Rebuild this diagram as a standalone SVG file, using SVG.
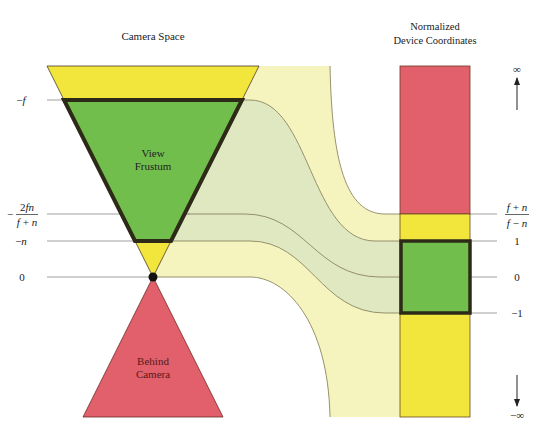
<svg xmlns="http://www.w3.org/2000/svg" width="540" height="435" viewBox="0 0 540 435">
<defs>
<style>
.t{font-family:"Liberation Serif","Times New Roman",serif;font-size:11px;fill:#222;text-anchor:middle}
.m{font-family:"Liberation Serif","Times New Roman",serif;font-size:11px;fill:#222;text-anchor:middle}
.i{font-style:italic}
.g{stroke:#a0a0a0;stroke-width:1;fill:none}
.c{stroke:#8a8660;stroke-width:0.9;fill:none}
.thin{stroke:#4a3a22;stroke-width:0.8}
.thick{stroke:#2e2a18;stroke-width:4;stroke-linejoin:miter}
</style>
<marker id="ah" viewBox="0 0 8 8" refX="7" refY="4" markerWidth="8" markerHeight="8" markerUnits="userSpaceOnUse" orient="auto">
<path d="M0,1 L8,4 L0,7 Z" fill="#222"/>
</marker>
</defs>
<rect width="540" height="435" fill="#fff"/>

<g id="connectors">
<!-- pale bands -->
<path d="M259,66 L330,66 C332,160 345,214 385,214 L400,214 L400,417 L330,417 C328,320 285,277 250,277 L153,277 Z" fill="#f6f4be"/>
<path d="M242,100 L250,100 C310,100 310,241 375,241 L400,241 L400,313 L385,313 C320,313 310,241 250,241 L171,241 Z" fill="#dfe8c1"/>
<path d="M180,214 L245,214 C305,214 315,277 380,277 L400,277" class="c"/>
<!-- left guide lines -->
<line x1="47" y1="100" x2="70" y2="100" class="g"/>
<line x1="47" y1="214" x2="190" y2="214" class="g"/>
<line x1="47" y1="241" x2="160" y2="241" class="g"/>
<line x1="47" y1="277" x2="153" y2="277" class="g"/>
<!-- curves -->
<path d="M330,66 C332,160 345,214 385,214 L400,214" class="c"/>
<path d="M242,100 L250,100 C310,100 310,241 375,241 L400,241" class="c"/>
<path d="M171,241 L250,241 C310,241 320,313 385,313 L400,313" class="c"/>
<path d="M153,277 L250,277 C285,277 328,320 330,417" class="c"/>
<!-- right guide lines -->
<line x1="470" y1="214" x2="497" y2="214" class="g"/>
<line x1="470" y1="241" x2="497" y2="241" class="g"/>
<line x1="470" y1="277" x2="497" y2="277" class="g"/>
<line x1="470" y1="313" x2="497" y2="313" class="g"/>
<!-- infinity arrows -->
<line x1="517" y1="110" x2="517" y2="78" stroke="#222" stroke-width="1" marker-end="url(#ah)"/>
<line x1="517" y1="375" x2="517" y2="406" stroke="#222" stroke-width="1" marker-end="url(#ah)"/>
</g>

<g id="beyond-far">
<polygon points="47,66 259,66 242,100 64,100" fill="#f2e53c" class="thin"/>
</g>
<g id="near-gap">
<polygon points="135,241 171,241 153,277" fill="#f2e53c" class="thin"/>
</g>
<g id="behind-camera">
<polygon points="153,277 223,417 83,417" fill="#e1606b" stroke="#6a2a22" stroke-width="0.8"/>
<text class="t" x="153" y="365" style="fill:#5a1a18">Behind</text>
<text class="t" x="153" y="378" style="fill:#5a1a18">Camera</text>
</g>
<g id="view-frustum">
<polygon points="64,100 242,100 171,241 135,241" fill="#72be4d" class="thick"/>
<text class="t" x="153" y="157">View</text>
<text class="t" x="153" y="170">Frustum</text>
</g>
<g id="camera">
<circle cx="153" cy="277" r="4.5" fill="#111"/>
</g>

<g id="ndc">
<rect x="400" y="66" width="70" height="148" fill="#e1606b" stroke="#6a3a22" stroke-width="0.8"/>
<rect x="400" y="214" width="70" height="203" fill="#f2e53c" stroke="#6a4a22" stroke-width="0.8"/>
<rect x="401" y="241" width="69" height="72" fill="#72be4d" stroke="#2e2a18" stroke-width="3.5"/>
</g>

<g id="titles">
<text class="t" x="153" y="40">Camera Space</text>
<text class="t" x="435" y="30" style="font-size:10.5px">Normalized</text>
<text class="t" x="435" y="44" style="font-size:10.5px">Device Coordinates</text>
</g>

<g id="left-labels">
<text class="m" x="21" y="104">−<tspan class="i">f</tspan></text>
<text class="m" x="10" y="218">−</text>
<text class="m" x="27" y="211">2<tspan class="i">fn</tspan></text>
<line x1="16" y1="214.5" x2="38" y2="214.5" stroke="#222" stroke-width="0.7"/>
<text class="m" x="27" y="226"><tspan class="i">f</tspan> + <tspan class="i">n</tspan></text>
<text class="m" x="21" y="245">−<tspan class="i">n</tspan></text>
<text class="m" x="22" y="281">0</text>
</g>

<g id="right-labels">
<text class="m" x="517" y="73">∞</text>
<text class="m" x="517" y="211"><tspan class="i">f</tspan> + <tspan class="i">n</tspan></text>
<line x1="505" y1="214.5" x2="529" y2="214.5" stroke="#222" stroke-width="0.7"/>
<text class="m" x="517" y="227"><tspan class="i">f</tspan> − <tspan class="i">n</tspan></text>
<text class="m" x="517" y="245">1</text>
<text class="m" x="517" y="281">0</text>
<text class="m" x="517" y="317">−1</text>
<text class="m" x="517" y="419">−∞</text>
</g>
</svg>
